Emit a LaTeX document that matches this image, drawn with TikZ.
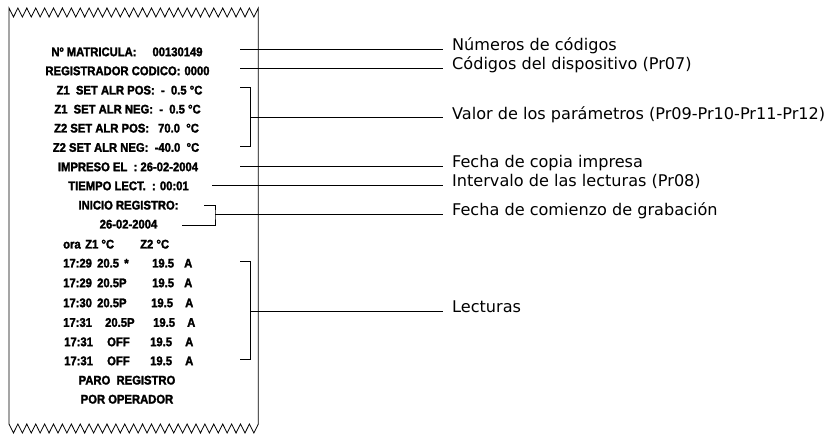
\documentclass[tikz,border=0pt]{standalone}
\usepackage{fontspec}
\setmainfont{Liberation Sans}
\newfontfamily\labfont{DejaVu Sans}
\newfontfamily\papfont[FakeBold=2,FakeStretch=0.9]{Liberation Sans Bold}
\newcommand\trow[7]{\makebox[0pt][l]{#1}\hspace{#2pt}\makebox[0pt][l]{#3}\hspace{#4pt}\makebox[0pt][l]{#5}\hspace{#6pt}#7}
\newcommand\gp[1]{\hspace{#1pt}}
\begin{document}
\begin{tikzpicture}[x=1pt,y=-1pt,
  ptxt/.style={font=\papfont\fontsize{12.5}{13}\selectfont, inner sep=0pt, anchor=base},
  prow/.style={font=\papfont\fontsize{12.5}{13}\selectfont, inner sep=0pt, anchor=base west},
  lab/.style={font=\labfont\fontsize{16.1}{18}\selectfont, inner xsep=9pt, inner ysep=0pt, anchor=base west},
  conn/.style={line width=0.8pt},
  paper/.style={line width=0.8pt, line join=miter}]
\useasboundingbox[fill=white] (0,0) rectangle (837,435);
% paper outline
\draw[paper] (9,424) -- (9,8) \foreach \i in {1,...,28}{ -- ({9+(\i-0.5)*8.904},17) -- ({9+\i*8.904},8)} -- (258.3,424);
\draw[paper] (9,424) \foreach \i in {1,...,28}{ -- ({9+(\i-0.5)*8.904},433) -- ({9+\i*8.904},424)};
% paper text
\node[ptxt] (t1) at (127,56.2) {Nº MATRICULA:\gp{16}00130149};
\node[ptxt] (t2) at (127.5,75.2) {REGISTRADOR CODICO:\gp{4}0000};
\node[ptxt] (t3) at (129.5,94.5) {Z1 \ SET ALR POS: \ - \ 0.5 °C};
\node[ptxt] (t4) at (127.5,113.5) {Z1 \ SET ALR NEG: \ - \ 0.5 °C};
\node[ptxt] (t5) at (126.5,132.5) {Z2 SET ALR POS:\gp{9}70.0 \ °C};
\node[ptxt] (t6) at (126,151.8) {Z2 SET ALR NEG: \ -40.0 \ °C};
\node[ptxt] (t7) at (128,171.2) {IMPRESO EL \ : 26-02-2004};
\node[ptxt] (t8) at (128.5,190.2) {TIEMPO LECT. \ : 00:01};
\node[ptxt] (t9) at (128.5,209.5) {INICIO REGISTRO:};
\node[ptxt] (t10) at (128.5,228.5) {26-02-2004};
\node[prow] (t11) at (63,248.5) {\trow{ora}{22}{Z1 °C}{55}{Z2 °C}{0}{}};
\node[prow] (t12) at (63,267.5) {\trow{17:29}{34}{20.5 \,*}{55}{19.5}{32}{A}};
\node[prow] (t13) at (63,287.2) {\trow{17:29}{34}{20.5P}{55}{19.5}{32}{A}};
\node[prow] (t14) at (63,307.2) {\trow{17:30}{34}{20.5P}{54}{19.5}{34}{A}};
\node[prow] (t15) at (63,326.8) {\trow{17:31}{42}{20.5P}{48}{19.5}{34}{A}};
\node[prow] (t16) at (64,346.2) {\trow{17:31}{43}{OFF}{43}{19.5}{35}{A}};
\node[prow] (t17) at (64,365.2) {\trow{17:31}{43}{OFF}{43}{19.5}{35}{A}};
\node[ptxt] (t18) at (127,384.5) {PARO \ REGISTRO};
\node[ptxt] (t19) at (127,403.5) {POR OPERADOR};
% labels
\node[lab] (l1) at (443,50.8) {Números de códigos};
\node[lab] (l2) at (443,69.8) {Códigos del dispositivo (Pr07)};
\node[lab] (l3) at (443,119.2) {Valor de los parámetros (Pr09-Pr10-Pr11-Pr12)};
\node[lab] (l4) at (443,167.5) {Fecha de copia impresa};
\node[lab] (l5) at (443,186.5) {Intervalo de las lecturas (Pr08)};
\node[lab] (l6) at (443,215.5) {Fecha de comienzo de grabación};
\node[lab] (l7) at (443,312.5) {Lecturas};
% connector start points
\coordinate (s1) at (240,49.3);
\coordinate (s2) at (240,68.3);
\coordinate (b3t) at (240,87.3);
\coordinate (b3b) at (240,146.7);
\coordinate (m3) at (250.7,117.7);
\coordinate (s4) at (240,166);
\coordinate (s5) at (212,185);
\coordinate (b6t) at (204,205.7);
\coordinate (b6b) at (181.7,225);
\coordinate (m6) at (215,214);
\coordinate (b7t) at (240,261.7);
\coordinate (b7b) at (240,359);
\coordinate (m7) at (250.7,311);
% connectors
\draw[conn] (s1) -- (s1 -| l1.west);
\draw[conn] (s2) -- (s2 -| l2.west);
\draw[conn] (b3t) -| (m3) |- (b3b);
\draw[conn] (m3) -- (m3 -| l3.west);
\draw[conn] (s4) -- (s4 -| l4.west);
\draw[conn] (s5) -- (s5 -| l5.west);
\draw[conn] (b6t) -| (m6) |- (b6b);
\draw[conn] (m6) -- (m6 -| l6.west);
\draw[conn] (b7t) -| (m7) |- (b7b);
\draw[conn] (m7) -- (m7 -| l7.west);
\end{tikzpicture}
\end{document}
